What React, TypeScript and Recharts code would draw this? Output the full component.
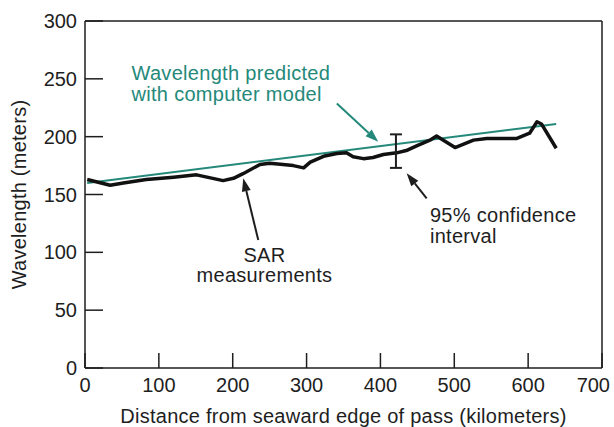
import React from 'react';
import {
  LineChart,
  Line,
  XAxis,
  YAxis,
  Scatter,
  ErrorBar,
  ReferenceLine,
  ReferenceDot,
  Label,
} from 'recharts';

// SAR measurements along the pass
const sarKm = [3, 34, 52, 83, 120, 151, 187, 201, 214, 237, 250, 268, 282, 296, 305, 323, 341, 354, 363, 377, 390, 404, 422, 435, 449, 467, 476, 501, 526, 544, 584, 602, 612, 618, 638];
const sarWavelength = [163, 158, 160, 163, 165, 167, 162, 164, 168, 176, 177, 176, 175, 173, 178, 183, 185.5, 186, 182.6, 181, 182, 184.6, 186, 188, 192, 197, 200.5, 190.6, 197, 198.4, 198.4, 203, 212.9, 211, 190];

// computer model prediction (straight line)
const modelKm = [3, 638];
const modelWavelength = [160, 211];

// 95% confidence interval
const ciKm = [421];
const ciCenter = [187];
const ciMinus = [14];
const ciPlus = [15];

const xTicks = [0, 100, 200, 300, 400, 500, 600, 700];
const yTicks = [0, 50, 100, 150, 200, 250, 300];

const sarData = sarKm.map((x, i) => ({ x, y: sarWavelength[i] }));
const modelData = modelKm.map((x, i) => ({ x, y: modelWavelength[i] }));
const ciData = ciKm.map((x, i) => ({ x, y: ciCenter[i], err: [ciMinus[i], ciPlus[i]] }));

const FONT = '"Liberation Sans", Arial, sans-serif';
const INK = '#1e1e1e';
const GREEN = '#24897a';

const BottomTick = (props: any) => {
  const { x, y, payload } = props;
  const last = payload.value === 700;
  return (
    <g>
      <line x1={x} y1={y} x2={x} y2={y - 15} stroke={INK} strokeWidth={1.5} />
      <text
        x={last ? x + 8 : x}
        y={y + 24}
        textAnchor={last ? 'end' : 'middle'}
        fontSize={20}
        fill={INK}
        fontFamily={FONT}
      >
        {payload.value}
      </text>
    </g>
  );
};

const TopTick = (props: any) => {
  const { x, y } = props;
  return <line x1={x} y1={y} x2={x} y2={y + 16} stroke={INK} strokeWidth={1.5} />;
};

const LeftTick = (props: any) => {
  const { x, y, payload } = props;
  return (
    <g>
      <line x1={x} y1={y} x2={x + 18} y2={y} stroke={INK} strokeWidth={1.5} />
      <text x={x - 8} y={y + 7} textAnchor="end" fontSize={20} fill={INK} fontFamily={FONT}>
        {payload.value}
      </text>
    </g>
  );
};

const RightTick = (props: any) => {
  const { x, y } = props;
  return <line x1={x} y1={y} x2={x - 15} y2={y} stroke={INK} strokeWidth={1.5} />;
};

const arrow = (color: string) => (p: any) => {
  const { x1, y1, x2, y2 } = p;
  const a = Math.atan2(y2 - y1, x2 - x1);
  const len = 13;
  const hw = 4.5;
  const bx = x2 - len * Math.cos(a);
  const by = y2 - len * Math.sin(a);
  const nx = -Math.sin(a) * hw;
  const ny = Math.cos(a) * hw;
  return (
    <g>
      <line x1={x1} y1={y1} x2={bx} y2={by} stroke={color} strokeWidth={2} />
      <polygon points={`${x2},${y2} ${bx + nx},${by + ny} ${bx - nx},${by - ny}`} fill={color} />
    </g>
  );
};

const note = (text: string, color: string, anchor: 'start' | 'middle' = 'start') => (p: any) => (
  <text
    x={p.cx}
    y={p.cy}
    textAnchor={anchor}
    fontSize={20}
    letterSpacing={0.3}
    fill={color}
    fontFamily={FONT}
  >
    {text}
  </text>
);

export default function App() {
  return (
    <div style={{ position: 'absolute', left: 0, top: 0, background: '#fff' }}>
      <LineChart width={614} height={427} margin={{ top: 20, right: 11, bottom: 0, left: 84 }}>
        <XAxis
          type="number"
          dataKey="x"
          domain={[0, 700]}
          ticks={xTicks}
          height={59}
          axisLine={{ stroke: INK, strokeWidth: 1.5 }}
          tickLine={false}
          tickSize={0}
          tickMargin={0}
          tick={<BottomTick />}
          interval={0}
        >
          <Label
            value="Distance from seaward edge of pass (kilometers)"
            position="insideBottom"
            offset={4}
            style={{ fontSize: 20, fill: INK, fontFamily: FONT, letterSpacing: 0.25 }}
          />
        </XAxis>
        <XAxis
          xAxisId="top"
          orientation="top"
          type="number"
          dataKey="x"
          domain={[0, 700]}
          ticks={xTicks.slice(1, -1)}
          height={1}
          axisLine={{ stroke: INK, strokeWidth: 1.5 }}
          tickLine={false}
          tickSize={0}
          tickMargin={0}
          tick={<TopTick />}
          interval={0}
        />
        <YAxis
          type="number"
          domain={[0, 300]}
          ticks={yTicks}
          width={1}
          axisLine={{ stroke: INK, strokeWidth: 1.5 }}
          tickLine={false}
          tickSize={0}
          tickMargin={0}
          tick={<LeftTick />}
          interval={0}
        >
          <Label
            value="Wavelength (meters)"
            angle={-90}
            position="left"
            offset={65}
            style={{ fontSize: 20, fill: INK, fontFamily: FONT, textAnchor: 'middle', letterSpacing: 0.25 }}
          />
        </YAxis>
        <YAxis
          yAxisId="right"
          orientation="right"
          type="number"
          domain={[0, 300]}
          ticks={yTicks.slice(1, -1)}
          width={1}
          axisLine={{ stroke: INK, strokeWidth: 1.5 }}
          tickLine={false}
          tickSize={0}
          tickMargin={0}
          tick={<RightTick />}
          interval={0}
        />

        <Line
          data={modelData}
          dataKey="y"
          type="linear"
          stroke={GREEN}
          strokeWidth={2}
          dot={false}
          activeDot={false}
          isAnimationActive={false}
        />
        <Line
          data={sarData}
          dataKey="y"
          type="linear"
          stroke="#111"
          strokeWidth={3.5}
          strokeLinejoin="round"
          dot={false}
          activeDot={false}
          isAnimationActive={false}
        />
        <Scatter data={ciData} dataKey="y" shape={() => <g />} isAnimationActive={false}>
          <ErrorBar dataKey="err" direction="y" width={6} stroke={INK} strokeWidth={2} isAnimationActive={false} />
        </Scatter>

        {/* annotations */}
        <ReferenceDot x={63} y={249} r={0} shape={note('Wavelength predicted', GREEN)} />
        <ReferenceDot x={63} y={231} r={0} shape={note('with computer model', GREEN)} />
        <ReferenceLine segment={[{ x: 341, y: 228.7 }, { x: 397, y: 195.6 }]} shape={arrow(GREEN)} />

        <ReferenceDot x={243} y={92} r={0} shape={note('SAR', INK, 'middle')} />
        <ReferenceDot x={243} y={74} r={0} shape={note('measurements', INK, 'middle')} />
        <ReferenceLine segment={[{ x: 234.6, y: 110.6 }, { x: 214.3, y: 164 }]} shape={arrow(INK)} />

        <ReferenceDot x={467} y={126.5} r={0} shape={note('95% confidence', INK)} />
        <ReferenceDot x={467} y={108.3} r={0} shape={note('interval', INK)} />
        <ReferenceLine segment={[{ x: 462.6, y: 146.7 }, { x: 435.5, y: 168.3 }]} shape={arrow(INK)} />
      </LineChart>
    </div>
  );
}
